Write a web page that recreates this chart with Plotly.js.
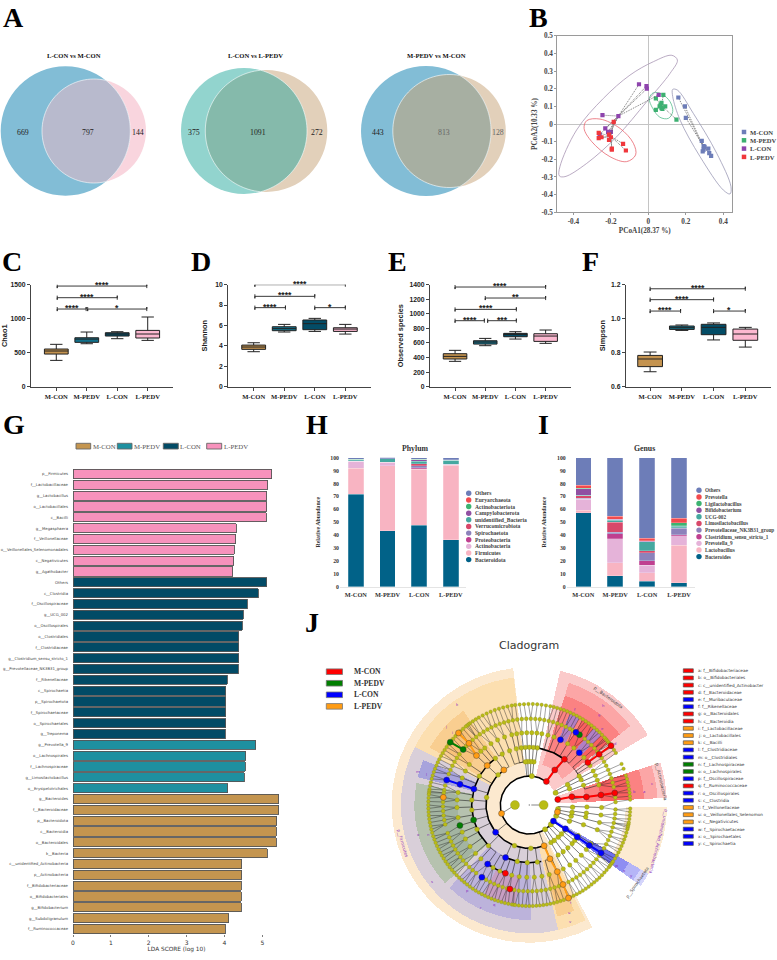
<!DOCTYPE html>
<html><head><meta charset="utf-8">
<script src="https://cdn.plot.ly/plotly-3.0.1.min.js"></script>
<style>html,body{margin:0;padding:0;background:#fff}#chart{width:777px;height:960px}</style>
</head><body><div id="chart"></div>
<script>
/* ---------- data ---------- */
var groups = ['M-CON','M-PEDV','L-CON','L-PEDV'];
var vennTitles = ['L-CON vs M-CON','L-CON vs L-PEDV','M-PEDV vs M-CON'];
var vennLeft = [669,375,443];
var vennMiddle = [797,1091,813];
var vennRight = [144,272,128];

/* B: PCoA */
var mconX=[.16,.195,.2,.285,.295,.3,.295,.29,.32,.325,.335];
var mconY=[.15,.10,.035,-.095,-.125,-.13,-.145,-.155,-.14,-.165,-.18];
var mpedvX=[.04,.08,.04,.065,.07,.07,.09,.15,.075,.06];
var mpedvY=[.145,.165,.08,.11,.09,.12,.10,.025,.085,.10];
var lconX=[-.05,-.01,-.008,.055,-.245,-.16,-.23,-.215,-.2,-.26,-.21];
var lconY=[.225,.215,.2,.165,.05,.045,-.025,-.045,-.045,-.06,-.05];
var lpedvX=[-.185,-.265,-.265,-.25,-.21,-.2,-.21,-.195,-.195,-.135,-.12];
var lpedvY=[.012,-.05,-.08,-.075,-.06,-.075,-.09,-.14,-.145,-.112,-.15];
var hubX=[.29,.07,-.16,-.2];
var hubY=[-.12,.105,.045,-.07];
var ringMconX=[.13,.155,.24,.365,.441,.436,.40,.276,.169,.13,.13];
var ringMconY=[.196,.192,.06,-.166,-.355,-.396,-.374,-.185,.023,.155,.196];
var ringMpedvX=[.027,.071,.116,.13,.107,.062,.023,.005,.027];
var ringMpedvY=[.177,.17,.126,.07,.032,.038,.089,.145,.177];
var ringLconX=[.155,.125,.027,-.098,-.24,-.383,-.472,-.475,-.445,-.329,-.169,-.009,.116,.155];
var ringLconY=[.362,.389,.353,.277,.145,-.034,-.242,-.294,-.298,-.223,-.072,.126,.287,.362];
var ringLpedvX=[-.329,-.258,-.151,-.08,-.068,-.116,-.205,-.302,-.343,-.329];
var ringLpedvY=[.019,.028,-.025,-.109,-.175,-.213,-.185,-.10,-.025,.019];

/* C-F: box summaries, order M-CON, M-PEDV, L-CON, L-PEDV */
var chaoLow=[387,632,706,681], chaoQ1=[480,652,745,716], chaoMed=[525,700,775,775], chaoQ3=[554,720,794,828], chaoHigh=[623,804,809,1025];
var shanLow=[3.43,5.36,5.42,5.16], shanQ1=[3.66,5.49,5.59,5.42], shanMed=[3.89,5.69,6.18,5.65], shanQ3=[4.08,5.88,6.54,5.78], shanHigh=[4.31,6.11,6.7,6.11];
var obsLow=[348,563,654,595], obsQ1=[380,585,686,622], obsMed=[416,613,718,695], obsQ3=[453,631,732,727], obsHigh=[499,663,755,778];
var simpLow=[.688,.931,.875,.833], simpQ1=[.718,.937,.906,.873], simpMed=[.763,.947,.949,.91], simpQ3=[.784,.957,.967,.939], simpHigh=[.804,.963,.975,.949];
/* brackets: from, to, level, label */
var chaoBr=[[.03,2.97,1480,'****'],[.03,2,1309,'****'],[.03,.98,1142,'****'],[1.03,2.97,1142,'*']];
var shanBr=[[.04,3,10,'****'],[.04,2,8.86,'****'],[.04,1.04,7.75,'****'],[2,3,7.75,'*']];
var obsBr=[[0,3,1368,'****'],[1,3,1217,'**'],[0,2.03,1061,'****'],[0,.97,906,'****'],[1.08,2.03,906,'***']];
var simpBr=[[0,3,1.176,'****'],[0,2,1.112,'****'],[0,.96,1.045,'****'],[2,3,1.045,'*']];

/* G: LDA */
var ldaLpedvNames=['p__Firmicutes','f__Lactobacillaceae','g__Lactobacillus','o__Lactobacillales','c__Bacilli','g__Megasphaera','f__Veillonellaceae','o__Veillonellales_Selenomonadales','c__Negativicutes','g__Agathobacter'];
var ldaLpedv=[5.25,5.14,5.12,5.11,5.10,4.31,4.30,4.26,4.25,4.22];
var ldaLconNames=['Others','c__Clostridia','f__Oscillospiraceae','g__UCG_002','o__Oscillospirales','o__Clostridiales','f__Clostridiaceae','g__Clostridium_sensu_stricto_1','g__Prevotellaceae_NK3B31_group','f__Rikenellaceae','c__Spirochaetia','p__Spirochaetota','f__Spirochaetaceae','o__Spirochaetales','g__Treponema'];
var ldaLcon=[5.12,4.89,4.60,4.50,4.47,4.375,4.375,4.375,4.36,4.07,4.03,4.03,4.03,4.03,4.02];
var ldaMpedvNames=['g__Prevotella_9','o__Lachnospirales','f__Lachnospiraceae','g__Limosilactobacillus','o__Erysipelotrichales'];
var ldaMpedv=[4.82,4.56,4.55,4.52,4.08];
var ldaMconNames=['g__Bacteroides','f__Bacteroidaceae','p__Bacteroidota','c__Bacteroidia','o__Bacteroidales','k__Bacteria','c__unidentified_Actinobacteria','p__Actinobacteria','f__Bifidobacteriaceae','o__Bifidobacteriales','g__Bifidobacterium','g__Subdoligranulum','f__Ruminococcaceae'];
var ldaMcon=[5.43,5.43,5.38,5.37,5.37,5.13,4.45,4.45,4.44,4.44,4.44,4.11,4.02];

/* H: phylum, bottom of stack first */
var phylumNames=['Bacteroidota','Firmicutes','Actinobacteria','Proteobacteria','Spirochaetota','Verrucomicrobiota','unidentified_Bacteria','Campylobacterota','Actinobacteriota','Euryarchaeota','Others'];
var phyBacteroidota=[71.7,43.4,47.6,36.5];
var phyFirmicutes=[20.1,50.2,43.4,57.6];
var phyActinobacteria=[5.4,2.6,.4,.5];
var phyProteobacteria=[.1,.2,.8,.1];
var phySpirochaetota=[.2,.1,1.6,.2];
var phyVerrucomicrobiota=[.1,.1,1.4,.2];
var phyUnidentified=[.9,2.5,2.2,2.8];
var phyCampylobacterota=[.1,.05,1.0,.3];
var phyActinobacteriota=[.1,.05,.3,.1];
var phyEuryarchaeota=[.1,.05,.2,.1];
var phyOthers=[1.1,.95,1.1,1.5];

/* I: genus, bottom of stack first */
var genusNames=['Bacteroides','Lactobacillus','Prevotella_9','Clostridium_sensu_stricto_1','Prevotellaceae_NK3B31_group','Limosilactobacillus','UCG-002','Bifidobacterium','Ligilactobacillus','Prevotella','Others'];
var genBacteroides=[57.3,8.5,4.4,3];
var genLactobacillus=[2.1,10,6.4,29.1];
var genPrevotella9=[8.5,18.8,5.7,7.5];
var genClostridium=[.3,3.6,3.8,.5];
var genNK3B31=[.3,1.3,5.9,5.1];
var genLimosi=[2,7.7,1.8,.6];
var genUCG=[.3,1.5,6.7,1];
var genBifido=[5.3,.9,.5,.5];
var genLigi=[.2,.1,.3,2.1];
var genPrevotella=[2.3,2.4,2,3.6];
var genOthers=[21.4,45.1,62.5,47];

var ringLevels=[43,87,130,173,217,259,303];
var kingdomTheta=[0,180];
var phylumTheta=[25,85,303,318,338,352];
var classTheta=[22,28,84,88,92,95,136,170,250,272,300,305,312,318,325,338,345,350,357];
var orderTheta=[20,26,30,82,86,90,94,98,103,110,118,126,150,175,185,205,225,258,268,278,300,306,312,318,322,328,340,348,352,358];
var familyTheta=[16,20,24,28,33,41,52,58,70,75,80,84,88,92,96,100,104,110,116,122,128,132,146,152,158,170,176,182,190,202,208,215,222,228,240,246,256,262,268,274,280,286,298,304,310,316,322,328,340,346,352,358];
var genusTheta=[2,5,12,15,18,21,24,27,30,33,38,41,44,47,50,60,62,65,68,71,74,77,80,83,86,89,92,95,98,101,104,107,110,113,116,119,122,125,128,131,137,144,147,150,153,156,159,167,170,172,178,181,184,187,190,193,199,202,205,208,211,214,217,220,223,226,229,232,240,243,246,249,252,255,260,263,266,269,272,275,278,281,284,287,290,297,300,303,306,309,312,315,318,321,324,327,330,333,336,339,342,345,348,351,354,357];
var speciesTheta=[3,5,7,9,11,13,15,17,21,24,31,33,35,36,37,38,39,40,41,42,44,46,48,50,52,54,56,58,60,62,64,66,68,70,72,74,76,78,80.5,83,85.5,88,90.5,93,95.5,98,100,102.5,105,107.5,110,112.5,115,117.5,120,122,124,126,127,128,129,131,133,135,137,139,143,145,147,149,151,153,155,157,159,161,163,165,167,169,171,172,173,174,176,178,180,182,184,186,188,190,192,194,196,198,200,202,204,206,208,210,212,214,216,218,220,222,224,226,228,230,232,234,236,238,240,242,244,246,248,250,252,254,256,258,260,261,262,264,266,268,270,272,274,276,278,280,282,284,286,288,290,294,296,298,300,302,304,306,308,310,312,314,316,318,320,322,323,324,325,326,328,330,332,334,336,338,340,342,344,346,347,348,349,350,352,354,356,358];
var redTheta=[54,54,52.5,36,36,36,11,11,8,8,8,250.7,257];
var redR=[87,130,173,217,259,303,87,130,173,217,259,217,259];
var greenTheta=[54.5,140,141.5,195,196.4];
var greenR=[259,259,303,173,217];
var blueTheta=[64.5,57.3,46.3,163.9,163.4,163.2,219,245.7,234.8,236.7,326.3,326.6,326.3,326.1,326.3];
var blueR=[217,259,217,173,217,259,130,173,217,259,87,130,173,217,259];
var orangeTheta=[126,136.9,136.9,134.4,134.5,174.9,197,290,291,292.8,293,292.8,346];
var orangeR=[130,173,217,259,303,259,87,130,173,217,259,303,87];
/* wedges: start angle, end angle, inner radius, outer radius */
var wedgeFrom=[96.7,30.5,3,-30,97,153,283,125,169,226,157,284,38,3,172,243,130,285,38,3,38,3,60,44,-36,-36,-36,-36];
var wedgeTo=[297.2,77,18,-1,153,283,296,150,223,271,166,293,72,18,220,262,147,292,72,18,58,18,66,50,-30,-30,-30,-30];
var wedgeIn=[85,85,85,290,127,127,127,170,170,170,170,170,127,127,215,215,215,215,170,170,215,215,215,215,85,127,170,215];
var wedgeOut=[413,413,413,413,385,385,385,345,345,345,345,345,385,385,300,300,300,300,345,345,300,300,300,300,413,385,345,300];
var wedgeColor=['#FCE9CF','#FBCACA','#FBCACA','#FCEBD2','#FCDFB0','#D9CFD9','#FCDFB0','#F9CE90','#B6C2AF','#BCB3DB','#A7A3DC','#F9CE90','#FCA6A6','#FCA6A6','#A3B4A1','#C79EC2','#F8C27A','#F8C27A','#FB8282','#FB8282','#F96060','#F96060','#B27FC4','#B27FC4','#D5D5FB','#B5B5F7','#8E8EF2','#6E6EEE'];
var legendLetters=['a: f__Bifidobacteriaceae','b: o__Bifidobacteriales','c: c__unidentified_Actinobacter','d: f__Bacteroidaceae','e: f__Muribaculaceae','f: f__Rikenellaceae','g: o__Bacteroidales','h: c__Bacteroidia','i: f__Lactobacillaceae','j: o__Lactobacillales','k: c__Bacilli','l: f__Clostridiaceae','m: o__Clostridiales','n: f__Lachnospiraceae','o: o__Lachnospirales','p: f__Oscillospiraceae','q: f__Ruminococcaceae','r: o__Oscillospirales','s: c__Clostridia','t: f__Veillonellaceae','u: o__Veillonellales_Selenomon','v: c__Negativicutes','w: f__Spirochaetaceae','x: o__Spirochaetales','y: c__Spirochaetia'];
var legendLetterGroup=[0,0,0,0,2,2,0,0,3,3,3,2,2,1,1,2,0,2,2,3,3,3,2,2,2];

/* ---------- styling & helpers ---------- */
var W=777,H=960;
var SERIF='"Liberation Serif",serif', SANS='"Liberation Sans",Arial,sans-serif', DEJA='"DejaVu Sans",sans-serif';
var boxColors=['#C4934F','#12708A','#034C66','#FCB8D0'];
var ldaColors=['#C4954F','#1E90A0','#024B66','#F792BC'];
var cladeColors=['#FF0000','#007F00','#0000FF','#FF9C14'];
function dx(l,r){return [l/W,r/W];}
function dy(t,b){return [1-b/H,1-t/H];}
var traces=[],annotations=[],shapes=[];
function note(x,y,text,size,opt){
  opt=opt||{};
  annotations.push({xref:opt.xref||'x',yref:opt.yref||'y',x:x,y:y,text:text,showarrow:false,
    font:{family:opt.family||SERIF,size:size,color:opt.color||'#222'},xanchor:opt.xanchor||'center',yanchor:opt.yanchor||'middle',
    textangle:opt.angle||0,borderpad:0,yshift:opt.yshift||0});
}
function b(t){return '<b>'+t+'</b>';}
var layout={width:W,height:H,autosize:false,margin:{l:0,r:0,t:0,b:0,pad:0},paper_bgcolor:'#fff',plot_bgcolor:'rgba(0,0,0,0)',
  showlegend:false,boxmode:'overlay',barmode:'stack',hovermode:false,
  xaxis:{domain:[0,1],range:[0,W],visible:false,fixedrange:true},
  yaxis:{domain:[0,1],range:[H,0],visible:false,fixedrange:true}};

/* overlay anchor trace keeps the page-level axes alive */
traces.push({type:'scatter',x:[0,W],y:[0,H],mode:'markers',marker:{opacity:0,size:1},xaxis:'x',yaxis:'y'});

/* panel letters */
[['A',2,17],['B',528,17],['C',1,261],['D',190,261],['E',387,261],['F',581,261],['G',2,424.5],['H',305,424.5],['I',537,424.5],['J',304,622]].forEach(function(p){
  note(p[1],p[2],b(p[0]),28,{xanchor:'left',color:'#000'});
});

/* A: Venn */
var vennGeom=[[65.5,64.8,94,52,'#82BDD6','#F9D5DE','#B8BACD'],[244,63,266.3,61,'#92D4CE','#E2D0BA','#85BAAB'],[426,65,449.3,56.5,'#82BDD6','#E2D0BA','#A7AFA2']];
var vennTx=[[23.3,88.3,137.7],[194.3,258.3,317],[378.3,443.7,498.3]];
var vennTitleX=[74.3,255,436.7];
function lensPath(x1,r1,x2,r2,cy){
  var d=x2-x1, a=(d*d+r1*r1-r2*r2)/(2*d), h=Math.sqrt(r1*r1-a*a);
  var t1=Math.atan2(h,a), t2=Math.atan2(h,a-d), pts=[];
  for(var i=0;i<=60;i++){var t=-t1+2*t1*i/60;pts.push([x1+r1*Math.cos(t),cy+r1*Math.sin(t)]);}
  for(var j=0;j<=60;j++){var u=t2+(2*Math.PI-2*t2)*j/60;pts.push([x2+r2*Math.cos(u),cy+r2*Math.sin(u)]);}
  return 'M'+pts.map(function(p){return p[0].toFixed(2)+','+p[1].toFixed(2);}).join('L')+'Z';
}
vennGeom.forEach(function(g,i){
  [[g[2],g[3],g[5]],[g[0],g[1],g[4]]].forEach(function(c){
    shapes.push({type:'circle',xref:'x',yref:'y',x0:c[0]-c[1],x1:c[0]+c[1],y0:131-c[1],y1:131+c[1],fillcolor:c[2],line:{width:0},layer:'below'});
  });
  shapes.push({type:'path',xref:'x',yref:'y',path:lensPath(g[0],g[1],g[2],g[3],131),fillcolor:g[6],line:{width:.7,color:'rgba(255,255,255,.85)'},layer:'below'});
  note(vennTitleX[i],55.3,b(vennTitles[i]),6.6,{color:'#111'});
  var c=i===2?'#666':'#222';
  note(vennTx[i][0],132.3,String(vennLeft[i]),7.8);
  note(vennTx[i][1],132.3,String(vennMiddle[i]),7.8,{color:c});
  note(vennTx[i][2],132.3,String(vennRight[i]),7.8,{color:c});
});

/* B: PCoA */
layout.xaxis2={domain:dx(557.3,732.3),range:[-.486,.448],anchor:'y2',tickvals:[-.4,-.2,0,.2,.4],ticktext:['-0.4','-0.2','0','0.2','0.4'],
  showline:true,mirror:true,linecolor:'#9a9a9a',linewidth:1,showgrid:false,zeroline:true,zerolinecolor:'#c4c4c4',zerolinewidth:1,ticks:'outside',ticklen:2,tickcolor:'#9a9a9a',
  tickfont:{family:SERIF,size:7.2,color:'#444',weight:'bold'},title:{text:'<b>PCoA1(28.37 %)</b>',font:{family:SERIF,size:7.2,color:'#444'},standoff:3},fixedrange:true};
layout.yaxis2={domain:dy(35.7,212.3),range:[-.5,.5],anchor:'x2',tickvals:[-.5,-.4,-.3,-.2,-.1,0,.1,.2,.3,.4,.5],ticktext:['-0.5','-0.4','-0.3','-0.2','-0.1','0','0.1','0.2','0.3','0.4','0.5'],
  showline:true,mirror:true,linecolor:'#9a9a9a',linewidth:1,showgrid:false,zeroline:true,zerolinecolor:'#c4c4c4',zerolinewidth:1,ticks:'outside',ticklen:2,tickcolor:'#9a9a9a',
  tickfont:{family:SERIF,size:7.2,color:'#444',weight:'bold'},title:{text:'<b>PCoA2(10.33 %)</b>',font:{family:SERIF,size:7.2,color:'#444'},standoff:2},fixedrange:true};
var pcoaColors=['#6D7DB8','#3DB071','#8E44AD','#F0373C'];
var ringColors=['#9C9AB6','#58BE8E','#A896B4','#E8656E'];
var pcoaX=[mconX,mpedvX,lconX,lpedvX], pcoaY=[mconY,mpedvY,lconY,lpedvY];
var ringX=[ringMconX,ringMpedvX,ringLconX,ringLpedvX], ringY=[ringMconY,ringMpedvY,ringLconY,ringLpedvY];
groups.forEach(function(g,i){
  traces.push({type:'scatter',mode:'lines',x:ringX[i],y:ringY[i],line:{color:ringColors[i],width:.8,shape:'spline',smoothing:1},xaxis:'x2',yaxis:'y2',cliponaxis:false});
  var sx=[],sy=[];
  pcoaX[i].forEach(function(v,k){sx.push(v,hubX[i],null);sy.push(pcoaY[i][k],hubY[i],null);});
  traces.push({type:'scatter',mode:'lines',x:sx,y:sy,line:{color:'#555',width:.8,dash:'1px,1px'},xaxis:'x2',yaxis:'y2'});
  traces.push({type:'scatter',mode:'markers',name:g,x:pcoaX[i],y:pcoaY[i],marker:{symbol:'square',size:4.2,color:pcoaColors[i]},xaxis:'x2',yaxis:'y2'});
  traces.push({type:'scatter',mode:'markers',x:[744],y:[132+8.3*i],marker:{symbol:'square',size:4.5,color:pcoaColors[i]},xaxis:'x',yaxis:'y'});
  note(749,132.2+8.3*i,b(g),6.6,{xanchor:'left',color:'#444'});
});

/* C-F: box panels */
function boxPanel(n,l,r,axR,yTop,yBot,tickVals,low,q1,med,q3,high,br,title,tk,stand){
  var xa='x'+n,ya='y'+n;
  var xname='xaxis'+n,yname='yaxis'+n;
  layout[xname]={domain:dx(axR[0],axR[1]),range:[l,r],anchor:ya,tickvals:[0,1,2,3],ticktext:groups.map(b),showline:true,linecolor:'#444',linewidth:1.1,showgrid:false,zeroline:false,ticks:'outside',ticklen:3,tickcolor:'#444',tickwidth:1,
    tickfont:{family:SERIF,size:6.6,color:'#222'},fixedrange:true};
  layout[yname]={domain:dy(284.7,386.7),range:[yBot,yTop],anchor:xa,tickvals:tickVals,ticktext:tk,showline:true,linecolor:'#444',linewidth:1.1,showgrid:false,zeroline:false,ticks:'outside',ticklen:3,tickcolor:'#444',tickwidth:1,
    tickfont:{family:SANS,size:6.8,color:'#222',weight:'bold'},title:{text:b(title),font:{family:SANS,size:7.4,color:'#222'},standoff:stand},fixedrange:true};
  groups.forEach(function(g,i){
    traces.push({type:'box',name:g,x:[i],lowerfence:[low[i]],q1:[q1[i]],median:[med[i]],q3:[q3[i]],upperfence:[high[i]],width:.78,whiskerwidth:.52,
      fillcolor:boxColors[i],line:{color:'#222',width:1},marker:{opacity:0},boxpoints:false,xaxis:xa,yaxis:ya});
  });
  var tick=(yTop-yBot)*.02;
  br.forEach(function(k){
    traces.push({type:'scatter',mode:'lines',x:[k[0],k[0],k[0],k[1],k[1],k[1]],y:[k[2]+tick,k[2]-tick,k[2],k[2],k[2]+tick,k[2]-tick],line:{color:'#222',width:.9},xaxis:xa,yaxis:ya,cliponaxis:false});
    annotations.push({xref:xa,yref:ya,x:(k[0]+k[1])/2,y:k[2],text:b(k[3]),showarrow:false,font:{family:SANS,size:8.6,color:'#222'},yanchor:'middle',xanchor:'center',yshift:1});
  });
}
boxPanel(3,-.83,3.83,[31,173],1500,0,[0,500,1000,1500],chaoLow,chaoQ1,chaoMed,chaoQ3,chaoHigh,chaoBr,'Chao1',['0','500','1000','1500'],4);
boxPanel(4,-.83,3.83,[228.3,370.7],10,0,[0,2,4,6,8,10],shanLow,shanQ1,shanMed,shanQ3,shanHigh,shanBr,'Shannon',['0','2','4','6','8','10'],6);
boxPanel(5,-.83,3.83,[430,570.7],1400,0,[0,200,400,600,800,1000,1200,1400],obsLow,obsQ1,obsMed,obsQ3,obsHigh,obsBr,'Observed species',['0','200','400','600','800','1000','1200','1400'],4);
boxPanel(6,-.76,3.8,[626,770.7],1.2,.6,[.6,.8,1,1.2],simpLow,simpQ1,simpMed,simpQ3,simpHigh,simpBr,'Simpson',['0.6','0.8','1.0','1.2'],4);

/* G: LDA */
var ldaOrder=ldaLpedvNames.concat(ldaLconNames,ldaMpedvNames,ldaMconNames);
layout.xaxis7={domain:dx(73,280),range:[0,5.466],anchor:'y7',showline:false,showgrid:false,zeroline:false,tickvals:[0,1,2,3,4,5],ticks:'outside',ticklen:2,tickcolor:'#444',tickwidth:.7,
  tickfont:{family:DEJA,size:6,color:'#333'},title:{text:'LDA SCORE (log 10)',font:{family:DEJA,size:5.8,color:'#333'},standoff:2},fixedrange:true};
layout.yaxis7={domain:dy(468.6,934.4),type:'category',categoryorder:'array',categoryarray:ldaOrder,range:[42.5,-.5],anchor:'x7',showline:false,showgrid:false,zeroline:false,ticks:'',tickmode:'array',tickvals:ldaOrder,ticktext:ldaOrder,ticklabelstandoff:4,
  tickfont:{family:DEJA,size:3.85,color:'#444'},fixedrange:true};
[[ldaLpedvNames,ldaLpedv,3],[ldaLconNames,ldaLcon,2],[ldaMpedvNames,ldaMpedv,1],[ldaMconNames,ldaMcon,0]].forEach(function(s){
  traces.push({type:'bar',orientation:'h',name:groups[s[2]],y:s[0],x:s[1],width:.84,marker:{color:ldaColors[s[2]],line:{color:'#555',width:.9}},xaxis:'x7',yaxis:'y7'});
});
[[76,90.7,91.7],[117.3,132,133.2],[163.3,178.3,179.3],[206.7,221.7,222.7]].forEach(function(s,i){
  shapes.push({type:'rect',xref:'x',yref:'y',x0:s[0],x1:s[1],y0:443.3,y1:449,fillcolor:ldaColors[i],line:{color:'#666',width:.9}});
  note(s[2],446.3,groups[i],6.8,{xanchor:'left',color:'#555'});
});

/* H, I: stacks */
var stackColors=['#016288','#F8B4C2','#E5B3D9','#BF3F90','#8C82BB','#D8486A','#45A8A0','#9050A2','#3CB371','#F24A4E','#6D7DB8'];
function stackPanel(n,dom,l,r,names,series,title,titleX,ytitleStand){
  var xa='x'+n,ya='y'+n;
  layout['xaxis'+n]={domain:dx(dom[0],dom[1]),range:[l,r],anchor:ya,tickvals:[0,1,2,3],ticktext:groups.map(b),showline:true,linecolor:'#e4e4e4',linewidth:1,showgrid:false,zeroline:false,ticks:'',
    tickfont:{family:SERIF,size:6.3,color:'#333'},ticklabelstandoff:2,fixedrange:true};
  layout['yaxis'+n]={domain:dy(457.7,586.7),range:[0,100],anchor:xa,dtick:10,tick0:0,showline:false,showgrid:false,zeroline:false,ticks:'',
    tickfont:{family:SERIF,size:5.8,color:'#333',weight:'bold'},title:{text:'<b>Relative Abundance</b>',font:{family:SERIF,size:5.9,color:'#333'},standoff:ytitleStand},fixedrange:true};
  names.forEach(function(nm,i){
    traces.push({type:'bar',name:nm,x:[0,1,2,3],y:series[i],width:.485,marker:{color:stackColors[i],line:{color:'rgba(255,255,255,.55)',width:.4}},xaxis:xa,yaxis:ya});
  });
  note(titleX,448.3,b(title),7.8,{color:'#333'});
}
stackPanel(8,[340,465.7],-.5,3.47,phylumNames,[phyBacteroidota,phyFirmicutes,phyActinobacteria,phyProteobacteria,phySpirochaetota,phyVerrucomicrobiota,phyUnidentified,phyCampylobacterota,phyActinobacteriota,phyEuryarchaeota,phyOthers],'Phylum',415.7,9);
stackPanel(9,[566.7,695],-.52,3.5,genusNames,[genBacteroides,genLactobacillus,genPrevotella9,genClostridium,genNK3B31,genLimosi,genUCG,genBifido,genLigi,genPrevotella,genOthers],'Genus',644,9);
function stackLegend(names,dotX,textX,yTop,size){
  names.slice().reverse().forEach(function(nm,k){
    var col=stackColors[names.length-1-k];
    traces.push({type:'scatter',mode:'markers',x:[dotX],y:[yTop+6.63*k],marker:{size:5.4,color:col},xaxis:'x',yaxis:'y'});
    note(textX,yTop+6.63*k,b(nm),size,{xanchor:'left',color:'#444'});
  });
}
stackLegend(phylumNames,468.7,474,493.3,5.6);
stackLegend(genusNames,699,704,490.3,5.2);

/* J: cladogram on a polar subplot */
var R=140,CX=529.3,CY=805,ZR=420;
layout.polar={domain:{x:dx(CX-R,CX+R),y:dy(CY-R,CY+R)},bgcolor:'rgba(0,0,0,0)',barmode:'overlay',sector:[0,360],
  radialaxis:{visible:false,range:[0,ZR],showgrid:false,showline:false,ticks:''},
  angularaxis:{visible:false,showgrid:false,showline:false,ticks:'',direction:'counterclockwise',rotation:0}};
traces.push({type:'barpolar',subplot:'polar',theta:wedgeFrom.map(function(a,i){return (a+wedgeTo[i])/2;}),width:wedgeFrom.map(function(a,i){return wedgeTo[i]-a;}),
  base:wedgeIn,r:wedgeOut.map(function(o,i){return o-wedgeIn[i];}),marker:{color:wedgeColor,line:{width:0}}});
/* all nodes at each ring */
var levelTheta=[kingdomTheta.slice(),phylumTheta.slice(),classTheta.slice(),orderTheta.slice(),familyTheta.slice(),genusTheta.slice(),speciesTheta.slice()];
[[redTheta,redR],[greenTheta,greenR],[blueTheta,blueR],[orangeTheta,orangeR]].forEach(function(s){
  s[0].forEach(function(t,i){levelTheta[ringLevels.indexOf(s[1][i])].push(t);});
});
function angDist(a,c){var d=Math.abs(a-c)%360;return d>180?360-d:d;}
function angDelta(a,c){var d=(c-a)%360;if(d>180)d-=360;if(d<-180)d+=360;return d;}
var fineT=[],fineR=[],edgeT=[],edgeR=[];
levelTheta.forEach(function(list,lv){
  if(lv===0)return;
  list.forEach(function(t){
    var par=levelTheta[lv-1][0];
    levelTheta[lv-1].forEach(function(p){if(angDist(t,p)<angDist(t,par))par=p;});
    var rc=ringLevels[lv],rp=ringLevels[lv-1],gap=angDist(t,par);
    if(lv>=5){ /* outer rings: short straight spokes that fan out */
      fineT.push(t,par,null);fineR.push(rc,rp,null);
    }else if(lv>=2&&gap<=25){ /* inner rings: radial spoke, then along the parent's ring */
      edgeT.push(t);edgeR.push(rc);
      var d=angDelta(t,par),n=Math.max(1,Math.ceil(Math.abs(d)/4));
      for(var i=0;i<=n;i++){edgeT.push(t+d*i/n);edgeR.push(rp);}
      edgeT.push(null);edgeR.push(null);
    }
  });
});
traces.push({type:'scatterpolar',subplot:'polar',mode:'lines',theta:fineT,r:fineR,line:{color:'#222',width:.42}});
traces.push({type:'scatterpolar',subplot:'polar',mode:'lines',theta:edgeT,r:edgeR,line:{color:'#222',width:.6}});
traces.push({type:'scatterpolar',subplot:'polar',mode:'lines',theta:[0,0,null,180,197],r:[6,43,null,43,87],line:{color:'#555',width:.7}});
/* thick arcs */
var arcTheta87=[54,70,85,100,115,130,145,160,175,190,205,220,235,250,265,280,295,310,326];
var arcTheta130=[126,140,155,170,185,200,219,235,250,265,280,290];
var arcTheta173a=[52.5,65,80,95,100];
var arcTheta173b=[126,137,150,164];
var arcTheta173c=[164,180,195,210,225];
var arcTheta173d=[246,258,270,282];
var arcTheta217a=[235,243,251];
var arcs=[[arcTheta87,87],[arcTheta130,130],[arcTheta173a,173],[arcTheta173b,173],[arcTheta173c,173],[arcTheta173d,173],[arcTheta217a,217]];
arcs.forEach(function(a){
  traces.push({type:'scatterpolar',subplot:'polar',mode:'lines',theta:a[0],r:a[0].map(function(){return a[1];}),line:{color:'#000',width:1.5}});
});
/* ordinary nodes */
var nodeSizes=[9,5.2,4.8,4.6,4.4,3.9,3.5];
[kingdomTheta,phylumTheta,classTheta,orderTheta,familyTheta,genusTheta,speciesTheta].forEach(function(list,lv){
  traces.push({type:'scatterpolar',subplot:'polar',mode:'markers',theta:list,r:list.map(function(){return ringLevels[lv];}),
    marker:{size:nodeSizes[lv],color:'#B9BC16',line:{color:'#80821a',width:.3}}});
});
traces.push({type:'scatterpolar',subplot:'polar',mode:'markers',theta:[0],r:[0],marker:{size:1.5,color:'#888'}});
/* biomarker chains and nodes */
var chains=[[0,[[54,87],[54,130],[52.5,173]]],[0,[[36,217],[36,259],[36,303]]],[0,[[11,87],[11,130],[8,173],[8,217],[8,259]]],
  [2,[[326.3,87],[326.6,130],[326.3,173],[326.1,217],[326.3,259]]],[2,[[163.9,173],[163.4,217],[163.2,259]]],
  [1,[[140,259],[141.5,303]]],[3,[[136.9,217],[134.4,259],[134.5,303]]],[3,[[290,130],[291,173],[292.8,217],[293,259],[292.8,303]]]];
chains.forEach(function(c){
  traces.push({type:'scatterpolar',subplot:'polar',mode:'lines',theta:c[1].map(function(p){return p[0];}),r:c[1].map(function(p){return p[1];}),line:{color:cladeColors[c[0]],width:2}});
});
[[redTheta,redR],[greenTheta,greenR],[blueTheta,blueR],[orangeTheta,orangeR]].forEach(function(s,i){
  traces.push({type:'scatterpolar',subplot:'polar',mode:'markers',name:groups[i],theta:s[0],r:s[1],marker:{size:6,color:cladeColors[i],line:{color:'#333',width:.4}}});
});
note(529.3,645,'Cladogram',11,{family:DEJA,color:'#333'});
/* wedge labels */
var ZX=function(z){return 300+z/3;},ZY=function(z){return 600+z/3;};
[['p__Bacteroidota',925,293,36,'#444'],['p__Actinobacteria',1083,545,77,'#444'],['p__unidentified_Actinobacteria',1075,725,104,'#8a2fc0'],['p__Spirochaetota',1012,848,-55,'#444'],['p__Firmicutes',307,732,73,'#8a2fc0']].forEach(function(l){
  note(ZX(l[1]),ZY(l[2]),l[0],4.3,{family:DEJA,color:l[4],angle:l[3]});
});
[['a',1033,573],['b',1003,575],['c',1055,550],['d',945,430],['e',908,385],['f',826,327],['g',898,343],['h',910,315],['i',458,397],['j',438,378],['k',472,312],['l',378,522],['m',353,515],['n',385,703],['o',355,703],['q',583,912],['p',503,872],['r',543,922],['s',395,845],['t',812,908],['u',808,937],['v',810,965],['w',948,795],['x',972,810],['y',995,825]].forEach(function(l){
  note(ZX(l[1]),ZY(l[2]),l[0],3.8,{family:DEJA,color:'#8a2fc0'});
});
/* J legends */
groups.forEach(function(g,i){
  var y=671.7+11.55*i;
  shapes.push({type:'rect',xref:'x',yref:'y',x0:326.3,x1:342.5,y0:y-2.8,y1:y+2.8,fillcolor:cladeColors[i],line:{color:'#777',width:.8}});
  note(352.7,y,b(g),7.6,{xanchor:'left',color:'#333'});
});
legendLetters.forEach(function(t,i){
  var y=670.7+7.2*i;
  shapes.push({type:'rect',xref:'x',yref:'y',x0:683.3,x1:693.3,y0:y-1.9,y1:y+1.9,fillcolor:cladeColors[legendLetterGroup[i]],line:{color:'#555',width:.7}});
  note(696.7,y,t,4.2,{family:DEJA,xanchor:'left',color:'#333'});
});

layout.annotations=annotations;
layout.shapes=shapes;
Plotly.newPlot('chart',traces,layout,{staticPlot:true,displayModeBar:false});
</script></body></html>
